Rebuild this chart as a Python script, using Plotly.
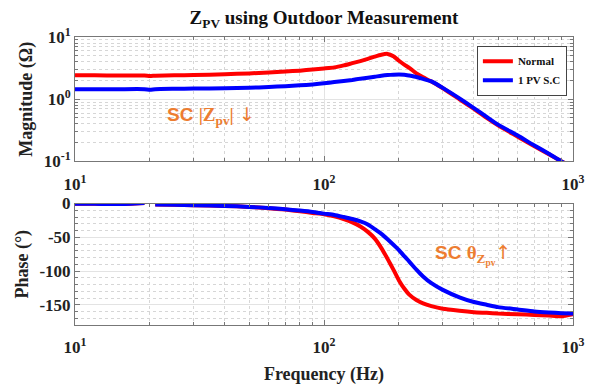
import plotly.graph_objects as go

freq = [10, 12, 15, 19, 20, 21, 25, 30, 40, 50, 60, 70, 80, 90, 100, 110, 120, 130, 140, 150,
        160, 170, 180, 190, 200, 210, 220, 235, 250, 270, 300, 350, 400, 450, 500, 600, 700, 800, 900, 1000]

mag_normal = [2.43, 2.42, 2.41, 2.40, 2.36, 2.39, 2.42, 2.45, 2.52, 2.60, 2.68, 2.78, 2.88, 3.0, 3.12, 3.25,
              3.5, 3.8, 4.1, 4.45, 4.85, 5.2, 5.35, 4.9, 4.15, 3.6, 3.2, 2.6, 2.25, 1.92, 1.5, 1.0, 0.7, 0.5,
              0.38, 0.25, 0.175, 0.13, 0.1, 0.08]
mag_sc = [1.45, 1.45, 1.45, 1.45, 1.42, 1.45, 1.47, 1.48, 1.50, 1.53, 1.57, 1.62, 1.67, 1.73, 1.80, 1.89,
          1.96, 2.04, 2.14, 2.22, 2.30, 2.38, 2.44, 2.48, 2.50, 2.48, 2.40, 2.28, 2.12, 1.93, 1.52, 1.03,
          0.72, 0.52, 0.39, 0.26, 0.18, 0.133, 0.1, 0.082]

ph_normal = [-0.5, -0.5, -0.8, 0.8, None, -1.5, -2, -2.5, -3.5, -5, -7, -9, -11.5, -14, -16, -19, -23, -28,
             -34, -42, -52, -66, -82, -98, -114, -126, -135, -143, -148, -152, -156, -159, -161, -162,
             -163, -164, -165, -166, -167, -164]
ph_sc = [-0.5, -0.5, -0.8, 0.8, None, -1.5, -2, -2.5, -3.5, -5, -6.5, -8.5, -10.5, -12.5, -15, -17, -20,
         -23, -26.5, -31, -38, -45, -53, -61, -69, -78, -86, -98, -108, -118, -128, -139, -146, -150,
         -153.5, -157, -160, -161.5, -162.5, -163]

names = ["Normal", "1 PV S.C"]
colors = ["#ff0000", "#0000ff"]

serif = "Liberation Serif"
orange = "#ED7D31"

fig = go.Figure()
for y, n, c in zip([mag_normal, mag_sc], names, colors):
    fig.add_trace(go.Scatter(x=freq, y=y, name=n, mode="lines",
                             line=dict(color=c, width=4, shape="spline", smoothing=0.5),
                             xaxis="x", yaxis="y", showlegend=True))
for y, n, c in zip([ph_normal, ph_sc], names, colors):
    fig.add_trace(go.Scatter(x=freq, y=y, name=n, mode="lines",
                             line=dict(color=c, width=4, shape="spline", smoothing=0.5),
                             xaxis="x2", yaxis="y2", showlegend=False))

tickfont = dict(family=serif, size=17, color="#222")
minor_style = dict(showgrid=True, gridcolor="#d6d6d6", griddash="dot", ticks="inside", ticklen=3, tickcolor="#777")
common = dict(showline=True, linecolor="#777", linewidth=1, mirror="ticks", ticks="inside", ticklen=5,
              tickcolor="#777", showgrid=True, gridcolor="#e3e3e3", gridwidth=1, zeroline=False,
              tickfont=tickfont)
xlog = dict(type="log", range=[1, 3], tickvals=[10, 100, 1000],
            ticktext=["<b>10<sup>1</sup></b>", "<b>10<sup>2</sup></b>", "<b>10<sup>3</sup></b>"],
            ticklabelstandoff=7, minor=dict(dtick="D1", **minor_style), **common)

title_font = dict(family=serif, size=18, color="#222")
sf = "font-family:'Liberation Serif'"
af = "font-family:'DejaVu Sans';font-weight:normal"

fig.update_layout(
    width=599, height=392,
    margin=dict(l=75, r=26, t=37, b=62),
    paper_bgcolor="white", plot_bgcolor="white",
    title=dict(text="<b>Z<sub>PV</sub> using Outdoor Measurement</b>", x=0.5, xref="paper", xanchor="center",
               y=0.955, yanchor="middle", font=dict(family=serif, size=19, color="#111")),
    xaxis=dict(domain=[0, 1], anchor="y", **xlog),
    yaxis=dict(domain=[0.568, 1], anchor="x", type="log", range=[-1, 1], tickvals=[0.1, 1, 10],
               ticktext=["<b>10<sup>-1</sup></b>", "<b>10<sup>0</sup></b>", "<b>10<sup>1</sup></b>"],
               minor=dict(dtick="D1", **minor_style),
               title=dict(text="<b>Magnitude (Ω)</b>", font=title_font, standoff=6),
               **common),
    xaxis2=dict(domain=[0, 1], anchor="y2",
                title=dict(text="<b>Frequency (Hz)</b>", font=title_font, standoff=10),
                **xlog),
    yaxis2=dict(domain=[0, 0.4218], anchor="x2", range=[-180, 0], tickvals=[0, -50, -100, -150],
                ticktext=["<b>0</b>", "<b>-50</b>", "<b>-100</b>", "<b>-150</b>"],
                minor=dict(dtick=10, **minor_style),
                title=dict(text="<b>Phase (°)</b>", font=title_font, standoff=6),
                **common),
    legend=dict(x=0.807, y=0.97, xanchor="left", yanchor="top", bgcolor="white", bordercolor="#444",
                borderwidth=1, font=dict(family=serif, size=11, color="#111", weight="bold"),
                tracegroupgap=0, itemwidth=30),
    annotations=[
        dict(text=f"<b>SC <span style=\"{sf}\">|Z<sub>pv</sub>|</span> <span style=\"{af}\">↓</span></b>",
             xref="paper", yref="paper", x=0.273, y=0.728,
             xanchor="center", yanchor="middle",
             showarrow=False, font=dict(family="Liberation Sans", size=19, color=orange)),
        dict(text=f"<b>SC <span style=\"{sf}\">θ<sub>Z<sub>pv</sub></sub></span><span style=\"{af}\">↑</span></b>",
             xref="paper", yref="paper", x=0.80, y=0.246,
             xanchor="center", yanchor="middle",
             showarrow=False, font=dict(family="Liberation Sans", size=19, color=orange)),
    ],
)

fig.write_html("out.html")
